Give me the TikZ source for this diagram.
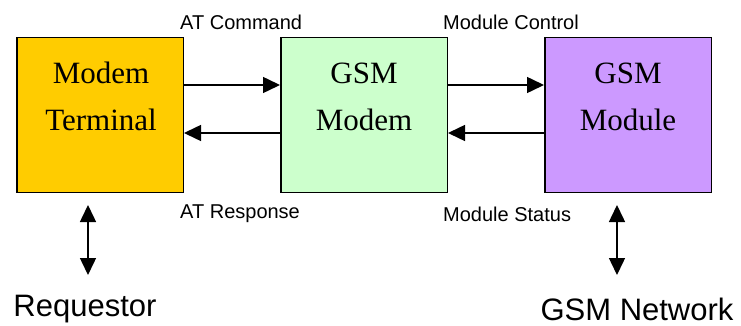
\documentclass[tikz,border=0pt]{standalone}
\usepackage{fontspec}
\setmainfont{Liberation Serif}
\setsansfont{Liberation Sans}
\usetikzlibrary{arrows.meta}

\definecolor{termfill}{HTML}{FFCC00}
\definecolor{modemfill}{HTML}{CCFFCC}
\definecolor{modulefill}{HTML}{CC99FF}

\begin{document}
\begin{tikzpicture}[x=1pt, y=-1pt,
    box/.style={draw, line width=1.5pt, minimum width=166.5pt, minimum height=154.5pt, inner sep=0pt},
    boxtext/.style={anchor=north, align=center, inner sep=0pt, font=\fontsize{31}{47}\selectfont},
    sig/.style={anchor=west, inner sep=0pt, font=\sffamily\fontsize{20}{24}\selectfont},
    ext/.style={inner sep=0pt, font=\sffamily\fontsize{31}{36}\selectfont},
    flow/.style={line width=1.5pt, -{Triangle[length=17pt, width=16pt]}},
    both/.style={line width=1.5pt, {Triangle[length=17pt, width=16pt]}-{Triangle[length=17pt, width=16pt]}}]

    \useasboundingbox (0, 0) rectangle (741, 326);

    \node [box, fill=termfill] (term) at (100, 115) {};
    \node [box, fill=modemfill] (modem) at (364, 115) {};
    \node [box, fill=modulefill] (module) at (628, 115) {};

    \node [boxtext] (termtxt) at (101, 62) {Modem\\Terminal};
    \node [boxtext] (modemtxt) at (364, 63) {GSM\\Modem};
    \node [boxtext] (moduletxt) at (628, 63) {GSM\\Module};

    \node [sig] (atcmd) at (180, 22) {AT Command};
    \node [sig] (atresp) at (180, 214) {AT Response};
    \node [sig] (modctl) at (443, 22) {Module Control};
    \node [sig] (modstat) at (443, 214) {Module Status};

    \draw [flow] ([yshift=30pt]term.east) to ([yshift=30pt]modem.west);
    \draw [flow] ([yshift=-18pt]modem.west) to ([yshift=-18pt]term.east);

    \draw [flow] ([yshift=30pt]modem.east) to ([yshift=30pt]module.west);
    \draw [flow] ([yshift=-18pt]module.west) to ([yshift=-18pt]modem.east);

    \node [ext] (req) at (85, 309) {Requestor};
    \node [ext] (net) at (637, 309) {GSM Network};

    \coordinate (reqtop) at (88, 205);
    \coordinate (reqbot) at (88, 275);
    \coordinate (nettop) at (617, 205);
    \coordinate (netbot) at (617, 275);

    \draw [both] (reqtop) to (reqbot);
    \draw [both] (nettop) to (netbot);

  \end{tikzpicture}
\end{document}
